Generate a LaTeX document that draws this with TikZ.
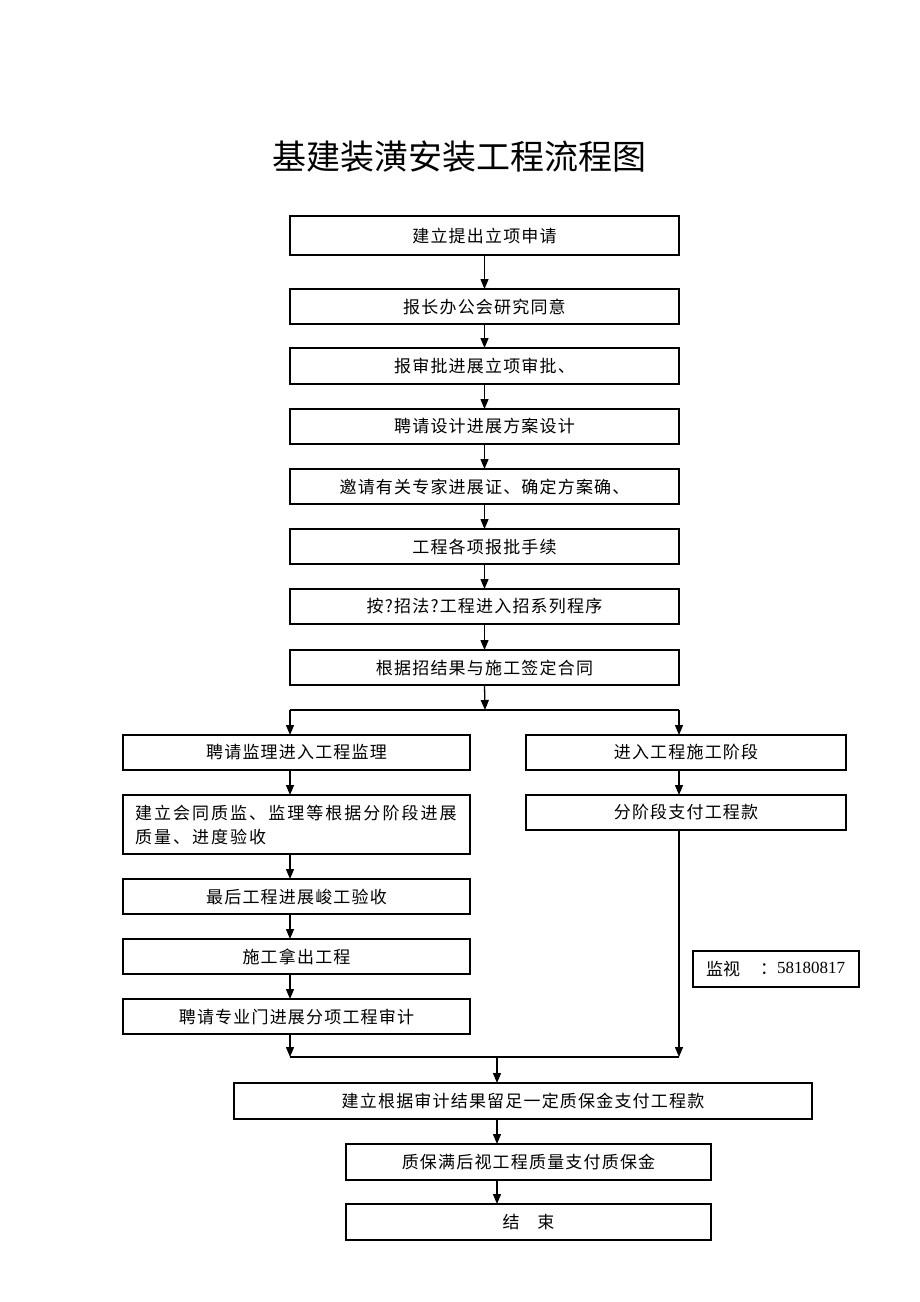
\documentclass[tikz,border=0pt]{standalone}
\usepackage{fontspec}
\newfontfamily\cjk[LetterSpace=7]{Noto Sans CJK SC}
\newfontfamily\cjkwide[LetterSpace=12]{Noto Sans CJK SC}
\newfontfamily\cjktitle{Noto Sans CJK SC}
\newfontfamily\ser{Liberation Serif}
\usetikzlibrary{arrows.meta}
\begin{document}
\begin{tikzpicture}[x=1pt,y=1pt,
  box/.style={draw=black,line width=1.3pt,inner sep=0pt,outer sep=0pt,
    font=\cjk\fontsize{17}{20}\selectfont},
  mainbox/.style={box,minimum width=389pt,minimum height=35pt},
  leftbox/.style={box,minimum width=347pt,minimum height=35pt},
  rightbox/.style={box,minimum width=320pt,minimum height=35pt},
  botbox/.style={box,minimum width=365pt,minimum height=36pt},
  arr/.style={line width=1.3pt,-{Triangle[length=10pt,width=8pt]}},
  ln/.style={line width=1.3pt}]
\useasboundingbox (0,0) rectangle (920,-1302);
\fill[white] (0,0) rectangle (920,-1302);

\node[font=\cjktitle\fontsize{34}{40}\selectfont] (title) at (459.5,-157) {基建装潢安装工程流程图};

\node[mainbox,minimum height=39pt] (b1) at (484.5,-235.5) {建立提出立项申请};
\node[mainbox] (b2) at (484.5,-306.5) {报长办公会研究同意};
\node[mainbox,minimum height=36pt] (b3) at (484.5,-366) {报审批进展立项审批、};
\node[mainbox] (b4) at (484.5,-426.5) {聘请设计进展方案设计};
\node[mainbox] (b5) at (484.5,-486.5) {邀请有关专家进展证、确定方案确、};
\node[mainbox] (b6) at (484.5,-546.5) {工程各项报批手续};
\node[mainbox] (b7) at (484.5,-606.5) {按?招法?工程进入招系列程序};
\node[mainbox] (b8) at (484.5,-667.5) {根据招结果与施工签定合同};

\node[leftbox] (l1) at (296.5,-752.5) {聘请监理进入工程监理};
\node[leftbox,minimum height=59pt,text width=323pt,align=left,inner xsep=12pt,
  font=\cjkwide\fontsize{17}{24}\selectfont] (l2) at (296.5,-824.5) {建立会同质监、监理等根据分阶段进展\\质量、进度验收};
\node[leftbox] (l3) at (296.5,-896.5) {最后工程进展峻工验收};
\node[leftbox] (l4) at (296.5,-956.5) {施工拿出工程};
\node[leftbox] (l5) at (296.5,-1016.5) {聘请专业门进展分项工程审计};

\node[rightbox] (r1) at (686,-752.5) {进入工程施工阶段};
\node[rightbox] (r2) at (686,-812.5) {分阶段支付工程款};

\node[box,minimum width=166pt,minimum height=36pt] (mon) at (776,-969) {};
\node[anchor=west,inner sep=0pt,font=\cjktitle\fontsize{17}{20}\selectfont] (monl) at (706,-969) {监视};
\node[anchor=west,inner sep=0pt,font=\cjktitle\fontsize{17}{20}\selectfont] (monc) at (760,-969) {：};
\node[anchor=west,inner sep=0pt,font=\ser\fontsize{17}{20}\selectfont] (mond) at (777,-968) {58180817};

\node[box,minimum width=578pt,minimum height=36pt] (b9) at (523,-1101) {建立根据审计结果留足一定质保金支付工程款};
\node[botbox] (b10) at (528.5,-1162) {质保满后视工程质量支付质保金};
\node[botbox] (b11) at (528.5,-1222) {结\hspace{18pt}束};

\coordinate (xl) at (290,0);
\coordinate (xr) at (679,0);
\coordinate (xb) at (497,0);
\coordinate (s) at (485,-710);
\coordinate (m) at (0,-1057);

\draw[arr] (b1) -- (b2);
\draw[arr] (b2) -- (b3);
\draw[arr] (b3) -- (b4);
\draw[arr] (b4) -- (b5);
\draw[arr] (b5) -- (b6);
\draw[arr] (b6) -- (b7);
\draw[arr] (b7) -- (b8);
\draw[arr] (b8.south) -- (s);
\draw[ln] (xl |- s) -- (xr |- s);
\draw[arr] (xl |- s) -- (xl |- l1.north);
\draw[arr] (xr |- s) -- (xr |- r1.north);

\draw[arr] (xl |- l1.south) -- (xl |- l2.north);
\draw[arr] (xl |- l2.south) -- (xl |- l3.north);
\draw[arr] (xl |- l3.south) -- (xl |- l4.north);
\draw[arr] (xl |- l4.south) -- (xl |- l5.north);
\draw[arr] (xr |- r1.south) -- (xr |- r2.north);

\draw[arr] (xl |- l5.south) -- (xl |- m);
\draw[arr] (xr |- r2.south) -- (xr |- m);
\draw[ln] (xl |- m) -- (xr |- m);
\draw[arr] (xb |- m) -- (xb |- b9.north);
\draw[arr] (xb |- b9.south) -- (xb |- b10.north);
\draw[arr] (xb |- b10.south) -- (xb |- b11.north);
\end{tikzpicture}
\end{document}
